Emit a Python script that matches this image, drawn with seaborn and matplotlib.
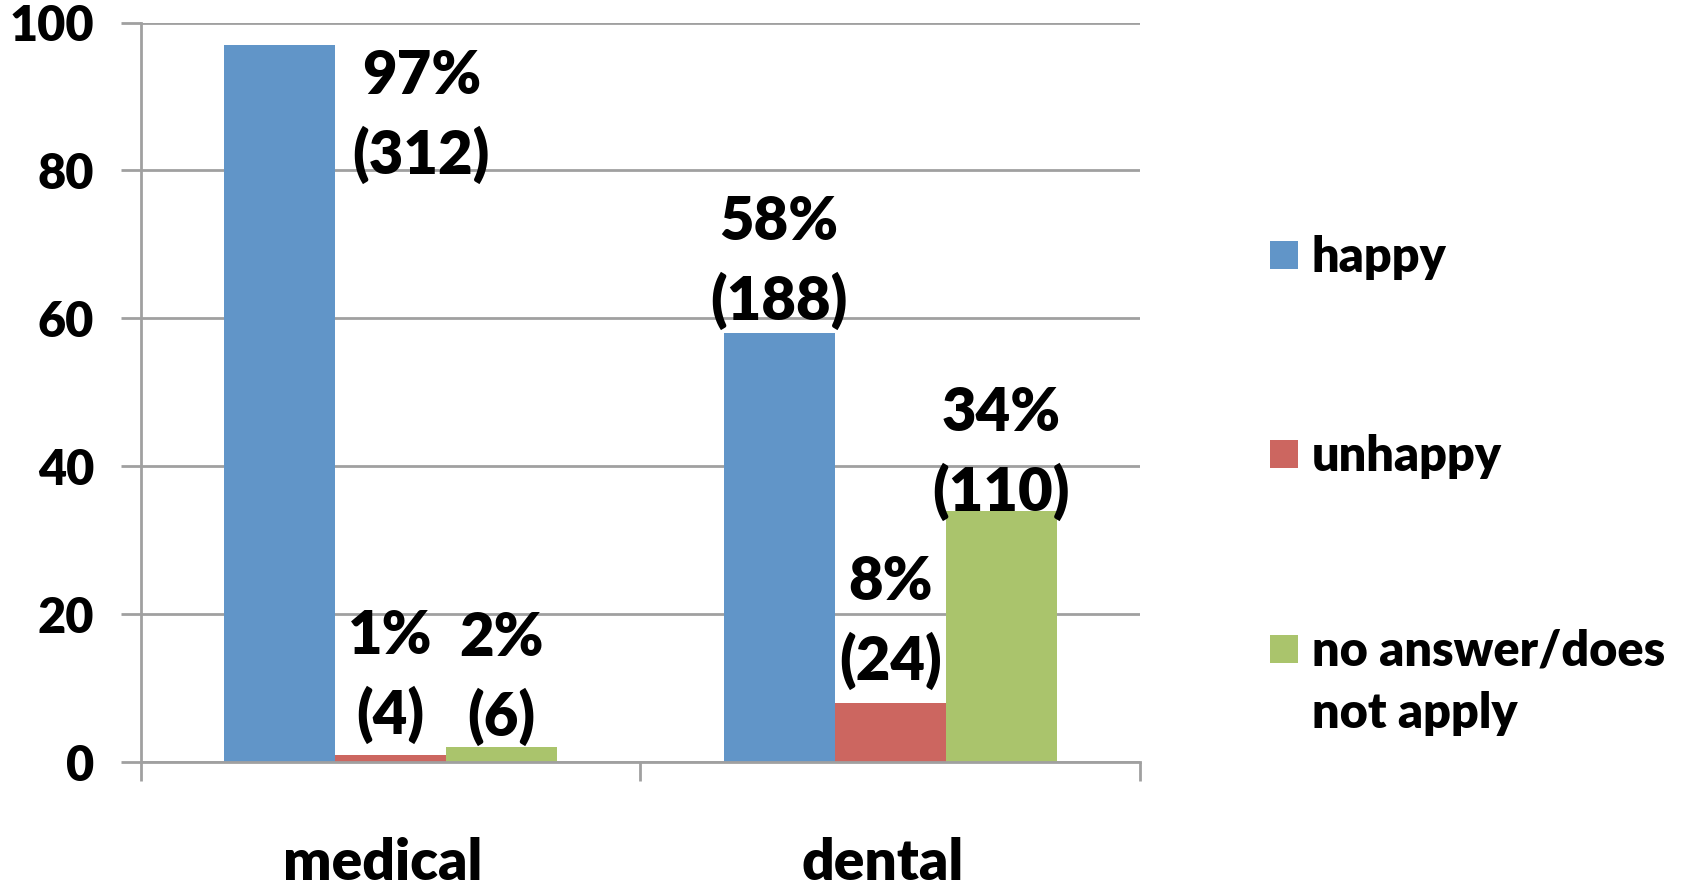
import matplotlib
matplotlib.use("Agg")
import matplotlib.pyplot as plt
import matplotlib.patches as mpatches
import matplotlib.transforms as mtransforms
import seaborn as sns
import pandas as pd

categories = ["medical", "dental"]
responses = ["happy", "unhappy", "no answer/does\nnot apply"]
happy = [97, 58]
unhappy = [1, 8]
no_answer = [2, 34]
counts_happy = [312, 188]
counts_unhappy = [4, 24]
counts_no_answer = [6, 110]
colors = ["#6195c8", "#cc6660", "#aac46c"]
yticks = [0, 20, 40, 60, 80, 100]

# label centre positions (data units): x offset from bar centre, y centre
label_dx = [[0.284, 0.0], [0.0, 0.0], [0.0, 0.0]]
label_y = [[87.3, 67.5], [11.6, 18.8], [11.3, 41.7]]

rows = []
for r, vals in zip(responses, [happy, unhappy, no_answer]):
    for c, v in zip(categories, vals):
        rows.append({"category": c, "response": r, "value": v})
df = pd.DataFrame(rows)

W = "heavy"
sns.set_theme(style="white")
plt.rcParams["font.family"] = ["Lato", "DejaVu Sans"]
plt.rcParams["font.weight"] = W

fig = plt.figure(figsize=(16.83, 8.90), dpi=100)
ax = fig.add_axes([0.0836, 0.1438, 0.5938, 0.8309])

sns.barplot(data=df, x="category", y="value", hue="response",
            hue_order=responses, order=categories, palette=colors,
            width=0.667, saturation=1, linewidth=0, ax=ax, legend=False)

ax.set_xlim(-0.5, 1.5)
ax.set_ylim(0, 100)
ax.set_yticks(yticks)
ax.set_xlabel("")
ax.set_ylabel("")
grid_c = "#a0a0a0"
ax.yaxis.grid(True, color=grid_c, linewidth=2)
ax.set_axisbelow(True)
for s in ["top", "right"]:
    ax.spines[s].set_visible(False)
ax.spines["left"].set_color(grid_c)
ax.spines["left"].set_linewidth(2)
ax.spines["bottom"].set_color(grid_c)
ax.spines["bottom"].set_linewidth(2)

ax.tick_params(axis="y", which="major", length=14.4, width=2, color=grid_c,
               direction="out", pad=19, labelsize=35, left=True)
ax.set_xticks([-0.5, 0.5, 1.5], minor=True)
ax.tick_params(axis="x", which="minor", length=13.7, width=2, color=grid_c,
               direction="out", bottom=True)
ax.tick_params(axis="x", which="major", length=0, pad=54, labelsize=41)
shift = mtransforms.ScaledTranslation(-8 / 100, 0, fig.dpi_scale_trans)
for lab in ax.get_xticklabels():
    lab.set_transform(lab.get_transform() + shift)
for lab in ax.get_xticklabels() + ax.get_yticklabels():
    lab.set_fontweight(W)
    lab.set_color("black")

# data labels
all_counts = [counts_happy, counts_unhappy, counts_no_answer]
all_vals = [happy, unhappy, no_answer]
for hi, cont in enumerate(ax.containers):
    for ci, bar in enumerate(cont):
        xc = bar.get_x() + bar.get_width() / 2 + label_dx[hi][ci]
        txt = f"{all_vals[hi][ci]}%\n({all_counts[hi][ci]})"
        ax.text(xc, label_y[hi][ci], txt, ha="center", va="center",
                fontsize=43, fontweight=W, color="black",
                linespacing=1.45)

# legend (drawn manually so the swatch aligns with the first label line)
FW, FH = 1683.0, 890.0
leg_patch_x = 1270
leg_text_x = 1312
leg_rows_y = [255, 454, 649]
sw = 28
for c, r, yc in zip(colors, responses, leg_rows_y):
    fig.patches.append(mpatches.Rectangle(
        (leg_patch_x / FW, 1 - (yc + sw / 2) / FH), sw / FW, sw / FH,
        transform=fig.transFigure, facecolor=c, edgecolor="none"))
    fig.text(leg_text_x / FW, 1 - (yc - 20) / FH, r, ha="left", va="top",
             fontsize=35, fontweight=W, color="black", linespacing=1.47)

fig.savefig("out.png", dpi=100)
